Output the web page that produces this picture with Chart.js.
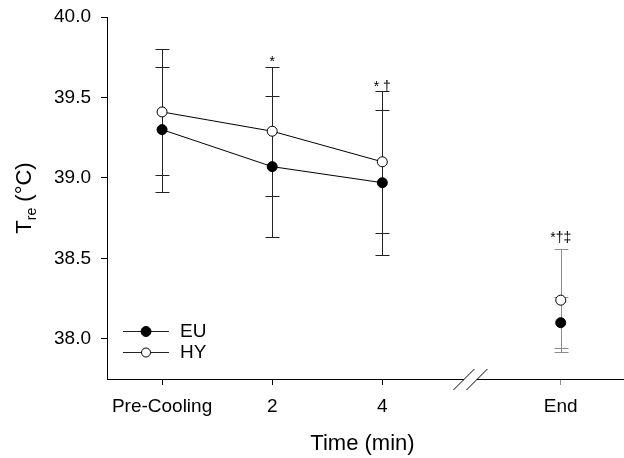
<!DOCTYPE html>
<html>
<head>
<meta charset="utf-8">
<script src="https://cdn.jsdelivr.net/npm/chart.js@4/dist/chart.umd.min.js"></script>
<style>
  html, body { margin: 0; padding: 0; background: #fff; }
  #wrap { width: 624px; height: 458px; }
</style>
</head>
<body>
<div id="wrap"><canvas id="tre" width="624" height="458"></canvas></div>
<script>
const categories = ['Pre-Cooling', '2', '4', 'End'];
const xPos = [0, 1, 2, 3.62];
const yTicks = [38.0, 38.5, 39.0, 39.5, 40.0];

const euMean = [39.30, 39.07, 38.97, 38.10];
const euSd = [0.39, 0.44, 0.45, 0.16];
const hyMean = [39.41, 39.29, 39.10, 38.24];
const hySd = [0.39, 0.40, 0.44, 0.32];

const sigLabels = ['', '*', '* \u2020', '*\u2020\u2021'];

const FONT = "'Liberation Sans', Arial, sans-serif";
const breakAt = 2.8;

const toPoints = (means) => means.map((m, i) => ({x: xPos[i], y: m}));

// no line across the axis break
const hideBreak = {
  borderColor: (ctx) => ctx.p1.parsed.x > breakAt ? 'rgba(0,0,0,0)' : '#000'
};

const errorBars = {
  id: 'errorBars',
  beforeDatasetsDraw(chart) {
    const {ctx, scales: {x, y}} = chart;
    ctx.save();
    ctx.lineWidth = 1;
    [[euMean, euSd], [hyMean, hySd]].forEach(([mean, sd]) => {
      mean.forEach((m, i) => {
        const px = Math.round(x.getPixelForValue(xPos[i])) + 0.5;
        const top = Math.round(y.getPixelForValue(m + sd[i])) + 0.5;
        const bot = Math.round(y.getPixelForValue(m - sd[i])) + 0.5;
        ctx.strokeStyle = i === 3 ? '#8c8c8c' : '#222';
        ctx.beginPath();
        ctx.moveTo(px, top); ctx.lineTo(px, bot);
        ctx.moveTo(px - 7, top); ctx.lineTo(px + 7, top);
        ctx.moveTo(px - 7, bot); ctx.lineTo(px + 7, bot);
        ctx.stroke();
      });
    });
    ctx.restore();
  }
};

const decorations = {
  id: 'decorations',
  afterDraw(chart) {
    const {ctx, chartArea, scales: {x, y}} = chart;
    ctx.save();

    // significance marks above the highest error bar
    const gaps = [0, 1, 0, 7];
    ctx.fillStyle = '#000';
    ctx.font = '14px ' + FONT;
    ctx.textAlign = 'center';
    ctx.textBaseline = 'alphabetic';
    sigLabels.forEach((t, i) => {
      if (!t) return;
      const hi = Math.max(euMean[i] + euSd[i], hyMean[i] + hySd[i]);
      ctx.fillText(t, x.getPixelForValue(xPos[i]), y.getPixelForValue(hi) - gaps[i]);
    });

    // x axis line with break
    const ay = Math.round(chartArea.bottom) + 0.5;
    const bx = x.getPixelForValue(breakAt);
    ctx.strokeStyle = '#000';
    ctx.lineWidth = 1;
    ctx.beginPath();
    ctx.moveTo(chartArea.left, ay); ctx.lineTo(bx - 6.5, ay);
    ctx.moveTo(bx + 6.5, ay); ctx.lineTo(chart.width, ay);
    ctx.moveTo(bx - 17, ay + 10.5); ctx.lineTo(bx + 4, ay - 10.5);
    ctx.moveTo(bx - 4, ay + 10.5); ctx.lineTo(bx + 17, ay - 10.5);
    ctx.stroke();

    // legend
    const rows = [
      {label: 'EU', fill: '#000', r: 5, y: 331},
      {label: 'HY', fill: '#fff', r: 4.5, y: 352}
    ];
    ctx.font = '19px ' + FONT;
    ctx.textAlign = 'left';
    ctx.textBaseline = 'middle';
    rows.forEach(row => {
      ctx.strokeStyle = '#222';
      ctx.beginPath();
      ctx.moveTo(123, row.y + 0.5); ctx.lineTo(169, row.y + 0.5);
      ctx.stroke();
      ctx.beginPath();
      ctx.arc(146, row.y + 0.5, row.r, 0, Math.PI * 2);
      ctx.fillStyle = row.fill;
      ctx.fill();
      ctx.strokeStyle = '#000';
      ctx.stroke();
      ctx.fillStyle = '#000';
      ctx.fillText(row.label, 180, row.y + 1);
    });

    // y title: T with subscript re
    const big = '22px ' + FONT, small = '14px ' + FONT;
    ctx.font = big;
    const wT = ctx.measureText('T').width;
    const wUnit = ctx.measureText(' (\u00B0C)').width;
    ctx.font = small;
    const wSub = ctx.measureText('re').width;
    const total = wT + wSub + wUnit;
    ctx.translate(31, (chartArea.top + chartArea.bottom) / 2);
    ctx.rotate(-Math.PI / 2);
    ctx.textBaseline = 'alphabetic';
    let cx = -total / 2;
    ctx.font = big;
    ctx.fillText('T', cx, 0);
    cx += wT;
    ctx.font = small;
    ctx.fillText('re', cx, 5);
    cx += wSub;
    ctx.font = big;
    ctx.fillText(' (\u00B0C)', cx, 0);
    ctx.restore();
  }
};

new Chart(document.getElementById('tre'), {
  type: 'line',
  data: {
    datasets: [{
      label: 'EU',
      data: toPoints(euMean),
      borderColor: '#000',
      borderWidth: 1,
      pointRadius: 5,
      pointBackgroundColor: '#000',
      pointBorderColor: '#000',
      pointBorderWidth: 1,
      segment: hideBreak,
      fill: false
    }, {
      label: 'HY',
      data: toPoints(hyMean),
      borderColor: '#000',
      borderWidth: 1,
      pointRadius: 5,
      pointBackgroundColor: '#fff',
      pointBorderColor: '#000',
      pointBorderWidth: 1,
      segment: hideBreak,
      fill: false
    }]
  },
  options: {
    responsive: false,
    animation: false,
    devicePixelRatio: 1,
    layout: {padding: {top: 17, right: 0, bottom: 0, left: 0}},
    plugins: {
      legend: {display: false},
      tooltip: {enabled: false}
    },
    scales: {
      x: {
        type: 'linear',
        min: -0.5,
        max: 4.14,
        afterBuildTicks: (scale) => { scale.ticks = xPos.map(v => ({value: v})); },
        afterFit: (scale) => { scale.height = 79; },
        border: {display: false},
        grid: {
          drawOnChartArea: false,
          tickLength: 6,
          tickColor: (ctx) => ctx.index === 3 ? '#8c8c8c' : '#000'
        },
        ticks: {
          autoSkip: false,
          maxRotation: 0,
          padding: 10,
          color: '#000',
          font: {family: FONT, size: 19},
          callback: (value, index) => categories[index]
        },
        title: {
          display: true,
          text: 'Time (min)',
          color: '#000',
          font: {family: FONT, size: 22},
          padding: {top: 0, bottom: 1}
        }
      },
      y: {
        min: 37.75,
        max: 40.0,
        afterBuildTicks: (scale) => { scale.ticks = yTicks.map(v => ({value: v})); },
        afterFit: (scale) => {
          scale.width = 107;
          scale.paddingTop = 0;
          scale.paddingBottom = 0;
        },
        border: {display: true, color: '#000', width: 1},
        grid: {
          drawOnChartArea: false,
          tickLength: 6,
          tickColor: '#000'
        },
        ticks: {
          padding: 10,
          color: '#000',
          font: {family: FONT, size: 19},
          callback: (value) => value.toFixed(1)
        }
      }
    }
  },
  plugins: [errorBars, decorations]
});
</script>
</body>
</html>
